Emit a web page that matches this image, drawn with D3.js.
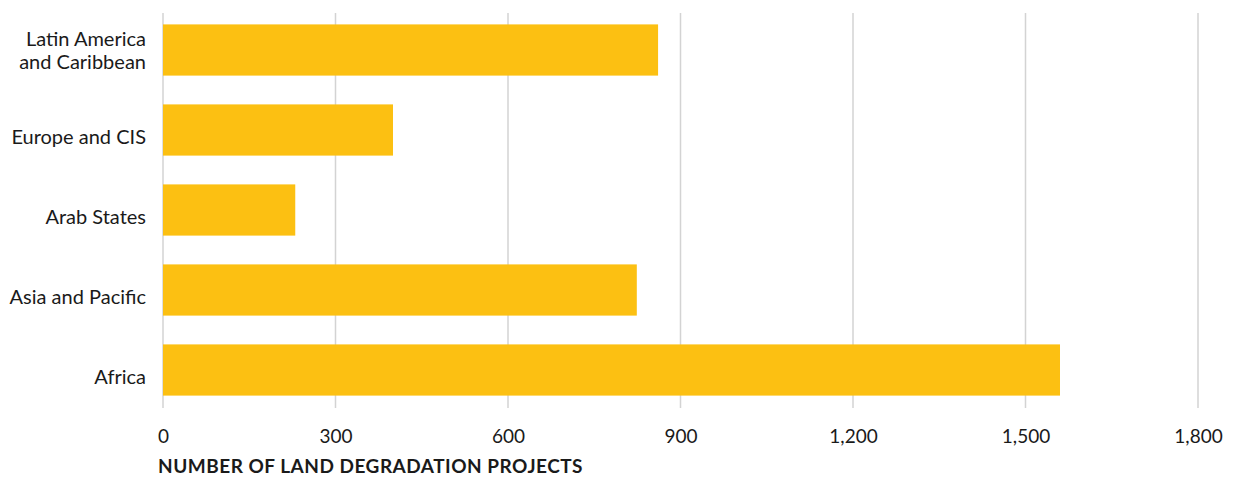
<!DOCTYPE html>
<html>
<head>
<meta charset="utf-8">
<script src="https://cdn.jsdelivr.net/npm/d3@7"></script>
<style>
  body { margin: 0; background: #fff; }
  svg { display: block; font-family: "Lato", "Open Sans", sans-serif; }
</style>
</head>
<body>
<svg id="chart"></svg>
<script>
const regions = ["Latin America\nand Caribbean", "Europe and CIS", "Arab States", "Asia and Pacific", "Africa"];
const projects = [861, 400, 230, 824, 1560];
const xTicks = [0, 300, 600, 900, 1200, 1500, 1800];
const axisTitle = "NUMBER OF LAND DEGRADATION PROJECTS";

const width = 1237, height = 477;
const margin = { top: 10, right: 39, bottom: 67, left: 163 };

const data = regions.map((r, i) => ({ label: r, val: projects[i] }));

const svg = d3.select("#chart")
  .attr("width", width)
  .attr("height", height);

const xScale = d3.scaleLinear()
  .domain([0, 1800])
  .range([margin.left, width - margin.right]);

const yScale = d3.scaleBand()
  .domain(regions)
  .range([margin.top, height - margin.bottom])
  .paddingInner(0.36)
  .paddingOuter(0.18);

// gridlines
svg.append("g")
  .selectAll("line")
  .data(xTicks)
  .enter()
  .append("line")
  .attr("x1", d => xScale(d))
  .attr("x2", d => xScale(d))
  .attr("y1", 13)
  .attr("y2", 408)
  .attr("stroke", "#d3d3d3")
  .attr("stroke-width", 1.5);

// bars
svg.append("g")
  .selectAll("rect")
  .data(data)
  .enter()
  .append("rect")
  .attr("x", xScale(0))
  .attr("y", d => yScale(d.label))
  .attr("width", d => xScale(d.val) - xScale(0))
  .attr("height", yScale.bandwidth())
  .attr("fill", "#fcc012");

// x axis labels
const xAxis = svg.append("g")
  .attr("transform", "translate(0,408)")
  .call(d3.axisBottom(xScale).tickValues(xTicks).tickFormat(d3.format(",")).tickSize(0).tickPadding(22));
xAxis.select(".domain").remove();
xAxis.selectAll("text")
  .attr("font-family", "Lato, 'Open Sans', sans-serif")
  .attr("font-size", 19)
  .attr("fill", "#1a1a1a");

// y axis labels
const yAxis = svg.append("g")
  .attr("transform", `translate(${margin.left},0)`)
  .call(d3.axisLeft(yScale).tickSize(0).tickPadding(17));
yAxis.select(".domain").remove();
yAxis.selectAll("text")
  .attr("font-family", "Lato, 'Open Sans', sans-serif")
  .attr("font-size", 20)
  .attr("fill", "#1a1a1a")
  .attr("dy", "0.68em")
  .each(function (d) {
    const lines = d.split("\n");
    if (lines.length < 2) return;
    const t = d3.select(this).text(null).attr("dy", null);
    lines.forEach((ln, i) => {
      t.append("tspan")
        .attr("x", -17)
        .attr("dy", i === 0 ? "-0.22em" : "1.17em")
        .text(ln);
    });
  });

// axis title
svg.append("text")
  .attr("x", 158)
  .attr("y", 473)
  .attr("font-size", 19)
  .attr("font-weight", "bold")
  .attr("letter-spacing", 0.5)
  .attr("fill", "#1a1a1a")
  .text(axisTitle);
</script>
</body>
</html>
